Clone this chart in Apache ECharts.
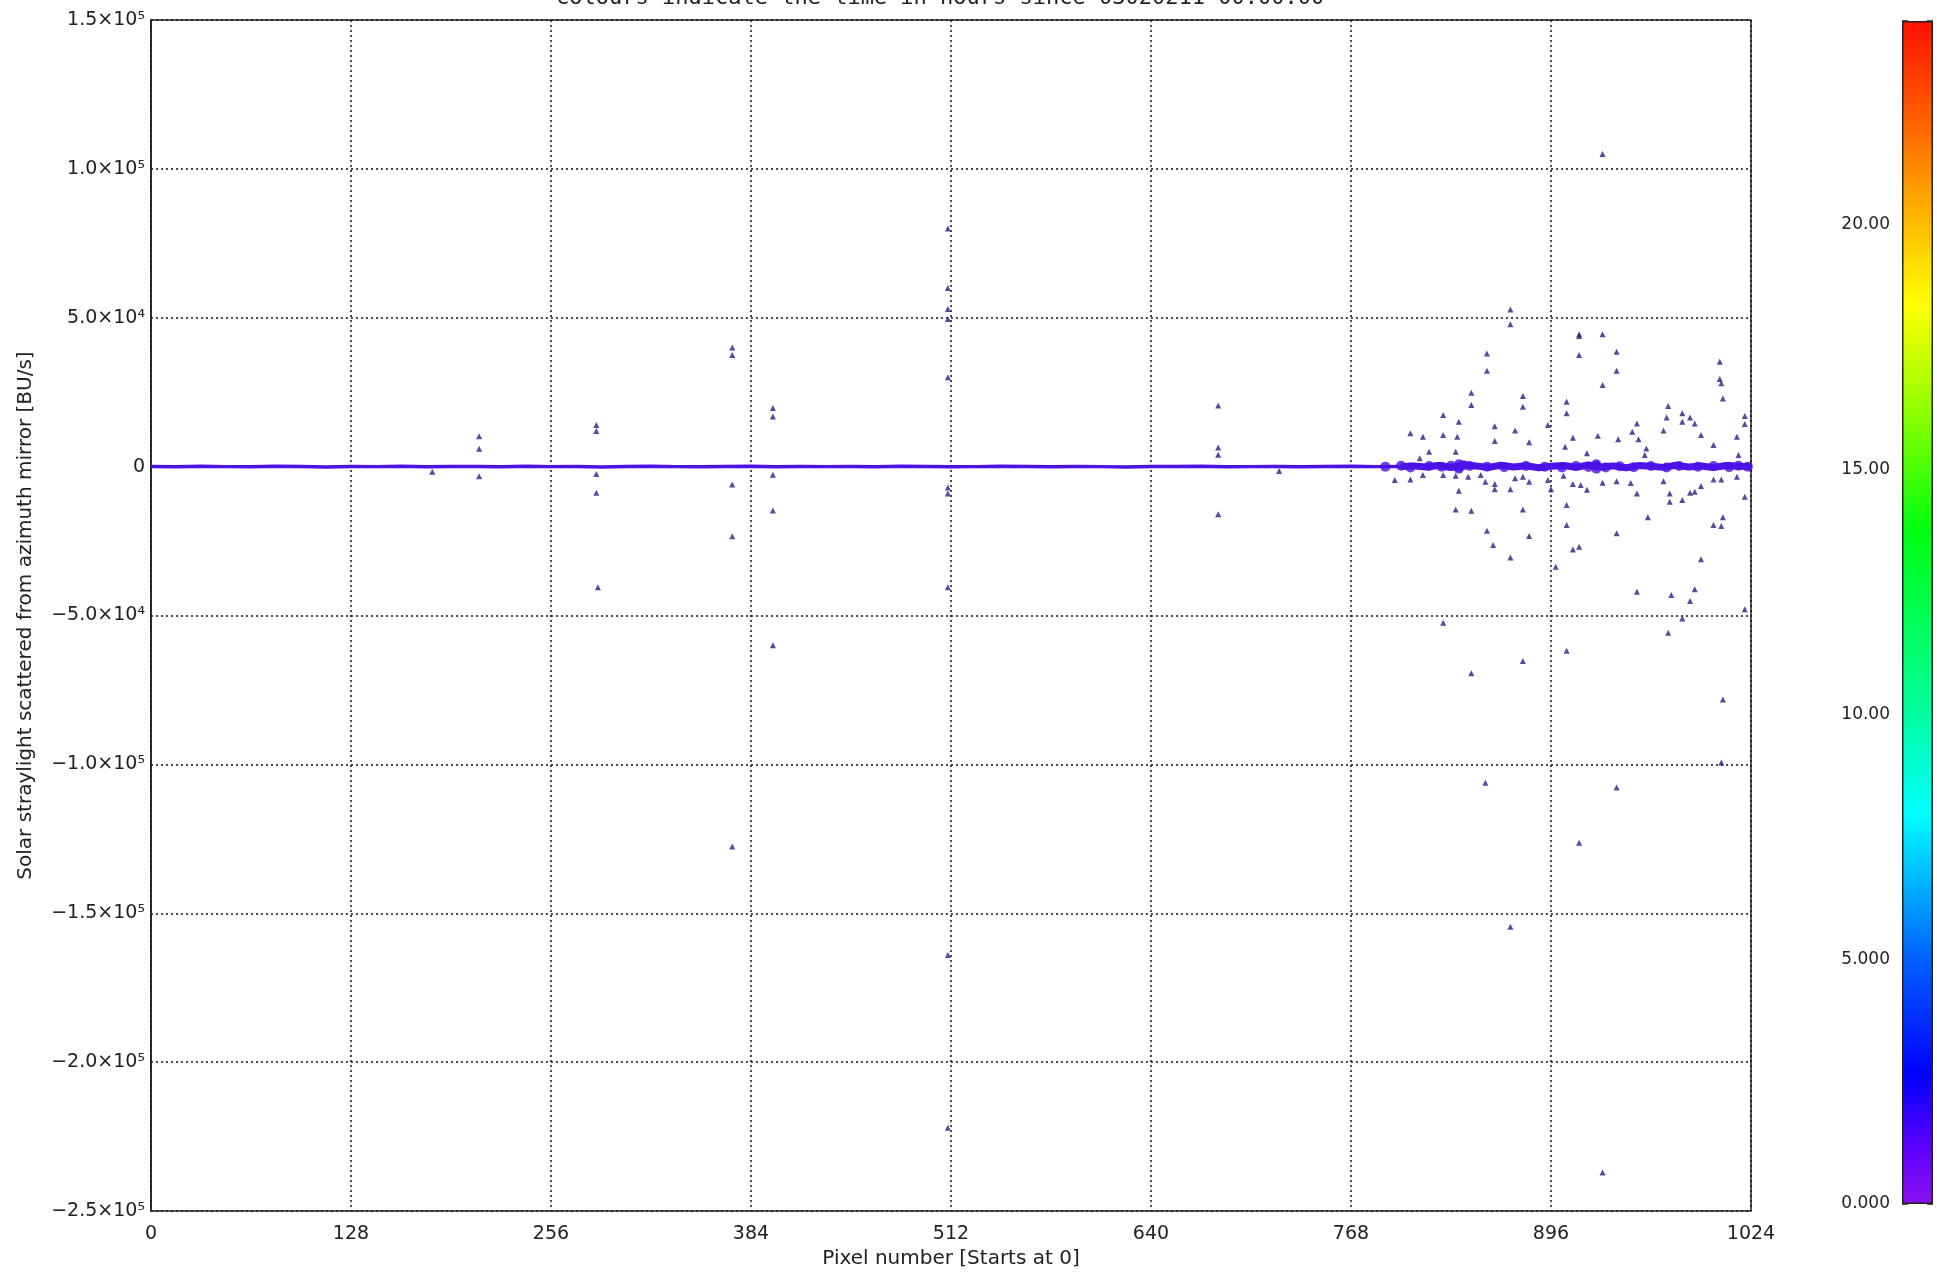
<!DOCTYPE html>
<html>
<head>
<meta charset="utf-8">
<script src="https://cdn.jsdelivr.net/npm/echarts@6/dist/echarts.min.js"></script>
<style>
html,body{margin:0;padding:0;background:#fff;}
#chart{width:1937px;height:1281px;}
</style>
</head>
<body>
<div id="chart"></div>
<script>
// ---- data ----
const titleText = 'Colours indicate the time in hours since 03020211 00:00:00';
const xTicks = [0, 128, 256, 384, 512, 640, 768, 896, 1024];
const yTickValues = [-250000, -200000, -150000, -100000, -50000, 0, 50000, 100000, 150000];
const yTickLabels = ['−2.5×10⁵', '−2.0×10⁵', '−1.5×10⁵', '−1.0×10⁵', '−5.0×10⁴', '0', '5.0×10⁴', '1.0×10⁵', '1.5×10⁵'];
const cbTickValues = [0, 5, 10, 15, 20];
const cbTickLabels = ['0.000', '5.000', '10.00', '15.00', '20.00'];
const cbMax = 24.16;

// quiet band near zero, pixels 0-800
const bandX = [0,16,32,48,64,80,96,112,128,144,160,176,192,208,224,240,256,272,288,304,320,336,352,368,384,400,416,432,448,464,480,496,512,528,544,560,576,592,608,624,640,656,672,688,704,720,736,752,768,784,800];
const bandY = [80,-40,120,0,-80,160,40,-120,80,0,
               120,-40,80,40,-80,120,0,80,-120,40,
               160,0,-40,80,120,-80,40,0,80,-40,
               120,40,-80,0,120,80,-40,40,0,-120,
               80,40,120,-40,0,80,-80,40,120,0,
               80];
// noisier band, pixels 800-1024
const band2X = [800,808,816,824,832,840,848,856,864,872,880,888,896,904,912,920,928,936,944,952,960,968,976,984,992,1000,1008,1016,1024];
const band2Y = [0,250,-150,400,-300,600,200,-250,450,-100,300,-350,150,400,-200,550,-150,250,-400,350,100,-250,450,-150,200,-300,400,100,0];
// dense clumps on the band
const clumpX = [790,800,806,818,826,832,837,837,837,840,844,855,866,880,892,903,912,920,925,925,925,931,940,949,960,970,978,990,1000,1010,1016,1022];
const clumpY = [0,300,-300,200,0,300,-200,800,-700,500,200,0,-200,200,0,-300,200,-100,300,800,-700,-300,100,-200,200,-300,200,0,200,-200,300,0];

// scattered outliers [pixel, BU/s]
const outX = [180,210,210,210,285,285,285,285,286,372,372,372,372,372,398,398,398,398,398,
  510,510,510,510,510,510,510,510,510,510,683,683,683,683,722,
  870,870,914,914,929,914,938,938,929,855,855,845,845,878,878,827,837,806,814,827,836,860,860,873,882,818,835,812,
  1004,1004,1005,1006,906,906,894,905,910,919,926,939,951,948,952,957,956,971,970,968,980,980,985,988,992,1000,1015,1020,1020,1016,
  796,806,814,827,835,843,851,854,860,860,837,870,873,882,878,894,896,904,910,915,919,929,938,947,951,968,972,972,980,985,988,992,1000,1005,1015,1020,
  835,845,878,906,855,882,859,906,938,910,914,958,1000,1005,1006,870,992,899,951,973,988,985,1020,980,827,971,906,878,845,1006,1005,854,938,914,870,929,929];
const outY = [-1700,10200,6000,-3200,14000,12000,-2500,-8800,-40500,40000,37500,-6000,-23400,-127600,19700,16800,-2700,-14700,-60000,
  80000,60000,52900,49600,30000,-7000,-9000,-40500,-164000,-222000,20500,6400,4000,-16000,-1500,
  52800,47800,44500,43900,44500,37500,38600,32200,27400,38000,32200,24800,20700,23700,20100,17300,15100,11200,10000,10600,10000,13600,8600,12100,8200,5000,5000,2800,
  35200,29400,28000,22900,21800,17900,14000,6700,9700,4500,10400,9200,14500,11700,9200,6100,3900,20400,16500,12100,17900,15100,16500,14500,10600,7300,10000,17000,14300,3900,
  -4500,-4300,-2800,-2800,-3100,-3400,-2800,-5100,-5800,-7600,-8100,-7600,-3900,-5100,-3400,-4500,-7600,-3100,-5800,-6200,-7800,-5400,-4900,-5500,-9000,-4900,-9000,-11800,-11200,-8800,-8400,-6500,-4300,-4300,-3400,-10100,
  -14400,-14800,-14400,-12900,-21500,-23300,-26300,-19600,-22400,-27800,-26900,-17000,-19600,-19900,-17000,-30500,-31100,-33600,-42000,-43100,-41200,-45100,-47900,-51000,-52400,-55800,-61800,-65300,-69400,-78200,-99400,-106200,-107800,-126300,-154500,-237100,105000];

// ---- chart ----
const FONT = 'DejaVu Sans';
const TXT = '#222';
const chart = echarts.init(document.getElementById('chart'), null, {renderer: 'canvas'});

const rainbow = {
  type: 'linear', x: 0, y: 1, x2: 0, y2: 0,
  colorStops: [
    {offset: 0.00, color: '#8a10f0'},
    {offset: 0.05, color: '#5a00ff'},
    {offset: 0.11, color: '#0000ff'},
    {offset: 0.21, color: '#0064ff'},
    {offset: 0.33, color: '#00ffff'},
    {offset: 0.42, color: '#00ff9a'},
    {offset: 0.57, color: '#00ff10'},
    {offset: 0.67, color: '#90ff00'},
    {offset: 0.76, color: '#ffff00'},
    {offset: 0.83, color: '#ffbb00'},
    {offset: 0.90, color: '#ff7000'},
    {offset: 1.00, color: '#ff1000'}
  ]
};

const option = {
  animation: false,
  backgroundColor: '#fff',
  title: {
    text: titleText, left: 556, top: -13, padding: 0,
    textStyle: {fontFamily: 'DejaVu Sans Mono', fontSize: 22, fontWeight: 'normal', color: TXT}
  },
  grid: [
    {left: 151, top: 20, width: 1600, height: 1191, show: true, borderColor: '#222', borderWidth: 1.5, backgroundColor: 'transparent'},
    {left: 1902, top: 21, width: 31, height: 1183}
  ],
  xAxis: [
    {
      type: 'value', gridIndex: 0, min: 0, max: 1024, interval: 128,
      name: 'Pixel number [Starts at 0]', nameLocation: 'middle', nameGap: 38,
      nameTextStyle: {fontFamily: FONT, fontSize: 20, color: TXT},
      axisLine: {show: true, lineStyle: {color: '#222', width: 1.5}},
      axisTick: {show: false},
      axisLabel: {fontFamily: FONT, fontSize: 19, color: TXT, margin: 14,
        formatter: v => xTicks.includes(v) ? String(v) : ''},
      splitLine: {show: true, lineStyle: {color: '#111', type: [2, 3], width: 1.5}}
    },
    {type: 'category', gridIndex: 1, data: ['c'], show: false}
  ],
  yAxis: [
    {
      type: 'value', gridIndex: 0, min: -250000, max: 150000, interval: 50000,
      name: 'Solar straylight scattered from azimuth mirror [BU/s]', nameLocation: 'middle', nameGap: 115,
      nameTextStyle: {fontFamily: FONT, fontSize: 20, color: TXT},
      axisLine: {show: true, lineStyle: {color: '#222', width: 1.5}},
      axisTick: {show: false},
      axisLabel: {fontFamily: FONT, fontSize: 19, color: TXT, margin: 6,
        formatter: v => { const i = yTickValues.indexOf(v); return i >= 0 ? yTickLabels[i] : ''; }},
      splitLine: {show: true, lineStyle: {color: '#111', type: [2, 3], width: 1.5}}
    },
    {
      type: 'value', gridIndex: 1, min: 0, max: cbMax, interval: 5, position: 'left',
      axisLine: {show: false},
      axisTick: {show: true, inside: true, length: 6, lineStyle: {color: '#222', width: 1.5}},
      minorTick: {show: true, splitNumber: 2, length: 4, lineStyle: {color: '#222', width: 1.5}},
      splitLine: {show: false},
      axisLabel: {fontFamily: FONT, fontSize: 17, color: TXT, margin: 12, showMaxLabel: false,
        formatter: v => { const i = cbTickValues.indexOf(v); return i >= 0 ? cbTickLabels[i] : ''; }}
    },
    {
      type: 'value', gridIndex: 1, min: 0, max: cbMax, interval: 5, position: 'right',
      axisLine: {show: false},
      axisTick: {show: true, inside: true, length: 6, lineStyle: {color: '#222', width: 1.5}},
      splitLine: {show: false},
      axisLabel: {show: false}
    }
  ],
  series: [
    {
      type: 'line', xAxisIndex: 0, yAxisIndex: 0, silent: true, showSymbol: false, z: 3,
      data: bandX.map((x, i) => [x, bandY[i]]),
      lineStyle: {color: '#4c12e6', width: 3.5}
    },
    {
      type: 'line', xAxisIndex: 0, yAxisIndex: 0, silent: true, showSymbol: false, z: 3,
      data: band2X.map((x, i) => [x, band2Y[i]]),
      lineStyle: {color: '#4c12e6', width: 7}
    },
    {
      type: 'scatter', xAxisIndex: 0, yAxisIndex: 0, silent: true, z: 4,
      symbol: 'circle', symbolSize: 10,
      data: clumpX.map((x, i) => [x, clumpY[i]]),
      itemStyle: {color: '#4c12e6'}
    },
    {
      type: 'scatter', xAxisIndex: 0, yAxisIndex: 0, silent: true, z: 5,
      symbol: 'triangle', symbolSize: 6,
      data: outX.map((x, i) => [x, outY[i]]),
      itemStyle: {color: '#2f1a86'}
    },
    {
      type: 'bar', xAxisIndex: 1, yAxisIndex: 1, silent: true, barWidth: '100%',
      data: [cbMax],
      itemStyle: {color: rainbow, borderColor: '#222', borderWidth: 1.5}
    }
  ]
};
chart.setOption(option);
</script>
</body>
</html>
